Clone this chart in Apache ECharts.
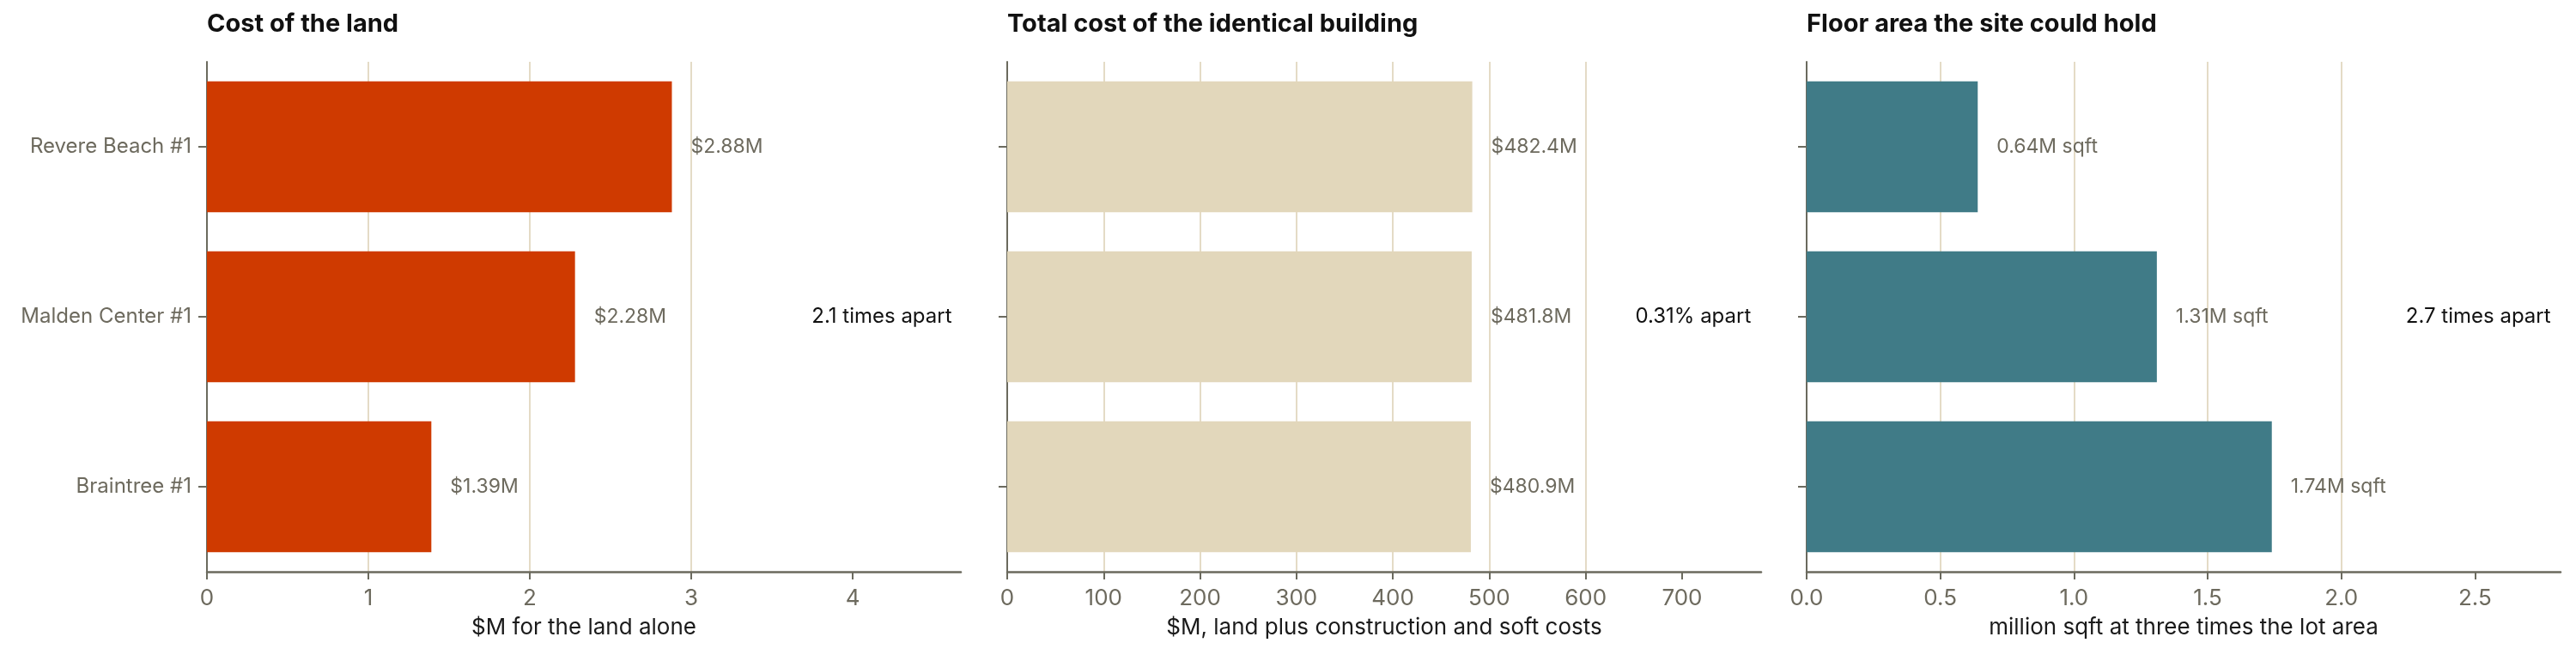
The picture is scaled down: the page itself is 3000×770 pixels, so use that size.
<!DOCTYPE html>
<html>
<head>
<meta charset="utf-8">
<script src="https://cdn.jsdelivr.net/npm/echarts@6/dist/echarts.min.js"></script>
<style>
  html, body { margin: 0; padding: 0; background: #fff; }
  #chart { width: 3000px; height: 770px; }
</style>
</head>
<body>
<div id="chart"></div>
<script>
// data
var sites = ['Revere Beach #1', 'Malden Center #1', 'Braintree #1'];
var landCost = [2.88, 2.28, 1.39];
var totalCost = [482.4, 481.8, 480.9];
var floorArea = [0.64, 1.31, 1.74];

var panelTitles = ['Cost of the land', 'Total cost of the identical building', 'Floor area the site could hold'];
var axisNames = ['$M for the land alone', '$M, land plus construction and soft costs', 'million sqft at three times the lot area'];
var gapNotes = ['2.1 times apart', '0.31% apart', '2.7 times apart'];

var landTicks = [0, 1, 2, 3, 4];
var totalTicks = [0, 100, 200, 300, 400, 500, 600, 700];
var floorTicks = [0, 0.5, 1.0, 1.5, 2.0, 2.5];

var dom = document.getElementById('chart');
var myChart = echarts.init(dom, null, { renderer: 'canvas' });

var FONT = 'Inter, Roboto, "Noto Sans", sans-serif';
var GREY = '#6d6a5e';
var AXIS = '#6b6a5e';
var GRIDC = '#e4dbc6';

var lefts = [241, 1173, 2104];
var maxes = [4.67, 782, 2.82];
var noteX = [4.617, 772, 2.785];
var ticks = [landTicks, totalTicks, floorTicks];
var colors = ['#cf3a00', '#e2d7bb', '#407b87'];
var values = [landCost, totalCost, floorArea];
var fmts = [
    function (v) { return '$' + v.toFixed(2) + 'M'; },
    function (v) { return '$' + v.toFixed(1) + 'M'; },
    function (v) { return v.toFixed(2) + 'M sqft'; }
];
var tickFmts = [
    function (v) { return String(v); },
    function (v) { return String(v); },
    function (v) { return v.toFixed(1); }
];

var grids = [], xAxes = [], yAxes = [], series = [], titles = [];
for (var i = 0; i < 3; i++) {
    titles.push({
        text: panelTitles[i],
        left: lefts[i],
        top: 14,
        padding: 0,
        textStyle: { fontFamily: FONT, fontSize: 29, fontWeight: 'bold', color: '#111' }
    });
    grids.push({ left: lefts[i], width: 878, top: 72, height: 594 });
    xAxes.push({
        type: 'value',
        gridIndex: i,
        min: 0,
        max: maxes[i],
        name: axisNames[i],
        nameLocation: 'middle',
        nameGap: 52,
        nameTextStyle: { fontFamily: FONT, fontSize: 26, color: '#1a1a1a' },
        axisLine: { show: true, onZero: false, lineStyle: { color: AXIS, width: 2.5 } },
        axisTick: { show: true, length: 9, customValues: ticks[i], lineStyle: { color: AXIS, width: 2 } },
        axisLabel: {
            customValues: ticks[i],
            margin: 18,
            fontFamily: FONT, fontSize: 26, color: GREY,
            formatter: tickFmts[i]
        },
        splitLine: { show: true, showMinLine: false, showMaxLine: false, lineStyle: { color: GRIDC, width: 2 } }
    });
    yAxes.push({
        type: 'category',
        gridIndex: i,
        data: sites,
        inverse: true,
        axisLine: { show: true, lineStyle: { color: AXIS, width: 2 } },
        axisTick: { show: true, alignWithLabel: true, length: 10, lineStyle: { color: AXIS, width: 2 } },
        axisLabel: { show: i === 0, margin: 18, fontFamily: FONT, fontSize: 24, color: GREY },
        splitLine: { show: false }
    });
    series.push({
        type: 'bar',
        xAxisIndex: i,
        yAxisIndex: i,
        data: values[i],
        barCategoryGap: '23%',
        itemStyle: { color: colors[i] },
        label: {
            show: true,
            position: 'right',
            distance: 22,
            fontFamily: FONT,
            fontSize: 23,
            color: GREY,
            formatter: (function (f) { return function (p) { return f(p.value); }; })(fmts[i])
        },
        markPoint: {
            symbol: 'rect',
            symbolSize: 1,
            itemStyle: { color: 'rgba(0,0,0,0)' },
            label: {
                show: true,
                position: 'left',
                distance: 0,
                fontFamily: FONT,
                fontSize: 24,
                color: '#111',
                formatter: gapNotes[i]
            },
            data: [{ coord: [noteX[i], sites[1]] }]
        }
    });
}

var option = {
    animation: false,
    backgroundColor: '#fff',
    title: titles,
    grid: grids,
    xAxis: xAxes,
    yAxis: yAxes,
    series: series
};
myChart.setOption(option);
</script>
</body>
</html>
